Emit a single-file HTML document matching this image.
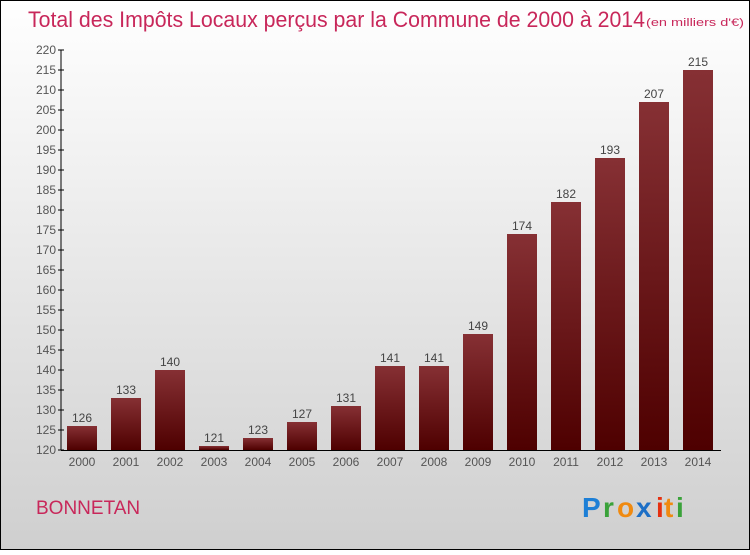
<!DOCTYPE html>
<html><head><meta charset="utf-8"><style>
body{margin:0}
#c{width:750px;height:550px;position:relative;font-family:"Liberation Sans",sans-serif}
</style></head><body>
<div id="c">
<svg width="750" height="550" id="svg">
<defs>
<linearGradient id="bg" x1="0" y1="0" x2="0" y2="1"><stop offset="0" stop-color="#ffffff"/><stop offset="1" stop-color="#cfcfcf"/></linearGradient>
<linearGradient id="bar" x1="0" y1="0" x2="0" y2="1"><stop offset="0" stop-color="#863034"/><stop offset="1" stop-color="#4e0000"/></linearGradient>
</defs>
<rect x="0.5" y="0.5" width="749" height="549" fill="url(#bg)" stroke="#000"/>
<text x="28" y="27" font-size="22" fill="#c8275a" textLength="617" lengthAdjust="spacingAndGlyphs">Total des Impôts Locaux perçus par la Commune de 2000 à 2014</text>
<text x="646" y="26" font-size="11" fill="#c8275a" textLength="98" lengthAdjust="spacingAndGlyphs">(en milliers d'€)</text>
<g id="axes"></g><g id="bars"></g>
<text x="36" y="514" font-size="19" fill="#c8275a">BONNETAN</text>
<g font-size="28" font-weight="bold">
<text x="582" y="517" fill="#1d7fd6">P</text><text x="603" y="517" fill="#3aa23a">r</text><text x="617" y="517" fill="#f08a10">o</text><text x="636" y="517" fill="#1d6fc6">x</text><text x="656" y="517" fill="#e53010">i</text><text x="664" y="517" fill="#f08a10">t</text><text x="676" y="517" fill="#3aa23a">i</text>
</g>
</svg></div>
<script>
const years=["2000","2001","2002","2003","2004","2005","2006","2007","2008","2009","2010","2011","2012","2013","2014"];
const values=[126,133,140,121,123,127,131,141,141,149,174,182,193,207,215];
const yTicks=[120,125,130,135,140,145,150,155,160,165,170,175,180,185,190,195,200,205,210,215,220];
const NS="http://www.w3.org/2000/svg";
const yMin=120,yMax=220,y0=450,y1=50;
function ys(v){return y0-(v-yMin)/(yMax-yMin)*(y0-y1);}
function xs(i){return 82+44*i;}
function mk(t,a,p){const e=document.createElementNS(NS,t);for(const k in a)e.setAttribute(k,a[k]);p.appendChild(e);return e;}
const ax=document.getElementById('axes'),bg=document.getElementById('bars');
let l=mk('line',{x1:61,y1:50,x2:61,y2:450,stroke:'#000'},ax);


l=mk('line',{x1:61,y1:450.5,x2:721,y2:450.5,stroke:'#000'},ax);


yTicks.forEach(v=>{const y=ys(v);
 mk('line',{x1:58,y1:y,x2:64,y2:y,stroke:'#000'},ax);
 const t=mk('text',{x:56,y:y+4,'font-size':12,fill:'#555','text-anchor':'end'},ax);t.textContent=v;
 
 
});
years.forEach((yr,i)=>{const cx=xs(i),v=values[i],top=ys(v);
 const r=mk('rect',{x:cx-15,y:top,width:30,height:y0-top,fill:'url(#bar)'},bg);
 
 
 const t=mk('text',{x:cx,y:top-4,'font-size':12,fill:'#444','text-anchor':'middle'},bg);t.textContent=v;
 
 
 const xt=mk('text',{x:cx,y:466,'font-size':12,fill:'#555','text-anchor':'middle'},ax);xt.textContent=yr;
 
 
});
</script>
</body></html>
